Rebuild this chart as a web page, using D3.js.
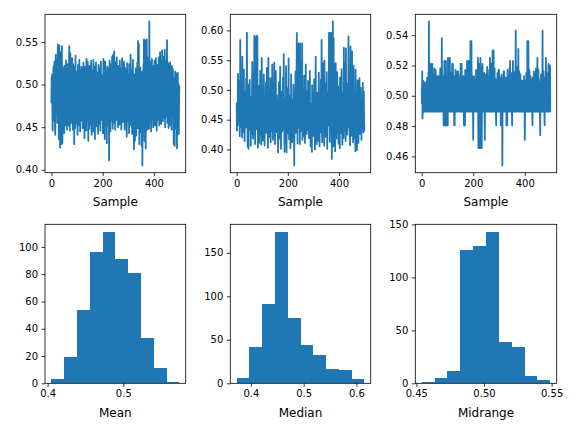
<!DOCTYPE html>
<html>
<head>
<meta charset="utf-8">
<script src="https://cdn.jsdelivr.net/npm/d3@7"></script>
<style>
  body { margin: 0; background: #fff; }
  text { font-family: "DejaVu Sans", sans-serif; }
</style>
</head>
<body>
<div id="chart"></div>
<script>
// per-sample statistics
var meanSamples = [
  0.478, 0.509, 0.492, 0.512, 0.463, 0.446, 0.498, 0.481, 0.521, 0.470, 0.458, 0.503, 0.527, 0.489, 0.452, 0.441, 0.496, 0.535, 0.474, 0.467,
  0.512, 0.488, 0.530, 0.455, 0.499, 0.547, 0.476, 0.462, 0.518, 0.436, 0.495, 0.546, 0.483, 0.471, 0.426, 0.509, 0.538, 0.457, 0.492, 0.430,
  0.501, 0.545, 0.468, 0.431, 0.520, 0.487, 0.458, 0.515, 0.474, 0.497, 0.443, 0.522, 0.481, 0.466, 0.506, 0.452, 0.491, 0.528, 0.463, 0.484,
  0.512, 0.447, 0.493, 0.524, 0.470, 0.458, 0.506, 0.487, 0.452, 0.533, 0.545, 0.478, 0.446, 0.499, 0.537, 0.463, 0.490, 0.518, 0.455, 0.476,
  0.502, 0.531, 0.468, 0.489, 0.447, 0.524, 0.494, 0.459, 0.512, 0.430, 0.486, 0.521, 0.473, 0.449, 0.534, 0.481, 0.462, 0.508, 0.495, 0.455,
  0.515, 0.476, 0.441, 0.498, 0.523, 0.463, 0.487, 0.509, 0.452, 0.529, 0.470, 0.496, 0.445, 0.517, 0.484, 0.466, 0.505, 0.521, 0.458, 0.491,
  0.478, 0.519, 0.449, 0.503, 0.468, 0.526, 0.487, 0.455, 0.514, 0.437, 0.497, 0.472, 0.521, 0.460, 0.489, 0.508, 0.446, 0.530, 0.481, 0.466,
  0.504, 0.459, 0.527, 0.491, 0.434, 0.512, 0.475, 0.498, 0.448, 0.522, 0.467, 0.486, 0.515, 0.453, 0.500, 0.528, 0.470, 0.441, 0.509, 0.483,
  0.462, 0.517, 0.494, 0.445, 0.529, 0.476, 0.503, 0.457, 0.521, 0.489, 0.436, 0.511, 0.468, 0.498, 0.526, 0.451, 0.484, 0.507, 0.473, 0.460,
  0.514, 0.483, 0.442, 0.497, 0.523, 0.466, 0.505, 0.454, 0.489, 0.519, 0.471, 0.446, 0.502, 0.527, 0.478, 0.492, 0.458, 0.511, 0.485, 0.464,
  0.509, 0.443, 0.496, 0.530, 0.474, 0.461, 0.518, 0.487, 0.436, 0.503, 0.527, 0.469, 0.492, 0.451, 0.514, 0.480, 0.431, 0.499, 0.521, 0.466,
  0.488, 0.507, 0.452, 0.475, 0.519, 0.411, 0.496, 0.528, 0.463, 0.484, 0.445, 0.511, 0.491, 0.470, 0.524, 0.457, 0.502, 0.533, 0.478, 0.448,
  0.497, 0.535, 0.469, 0.518, 0.486, 0.539, 0.455, 0.505, 0.477, 0.447, 0.526, 0.493, 0.462, 0.514, 0.481, 0.532, 0.458, 0.499, 0.472, 0.508,
  0.450, 0.522, 0.487, 0.466, 0.512, 0.495, 0.453, 0.528, 0.476, 0.501, 0.459, 0.519, 0.483, 0.447, 0.510, 0.490, 0.531, 0.468, 0.497, 0.456,
  0.516, 0.479, 0.503, 0.527, 0.462, 0.490, 0.447, 0.520, 0.484, 0.508, 0.453, 0.473, 0.517, 0.496, 0.439, 0.482, 0.525, 0.465, 0.501, 0.457,
  0.511, 0.474, 0.492, 0.443, 0.524, 0.486, 0.461, 0.507, 0.478, 0.535, 0.452, 0.498, 0.517, 0.467, 0.485, 0.442, 0.509, 0.490, 0.529, 0.458,
  0.477, 0.503, 0.424, 0.496, 0.468, 0.512, 0.434, 0.487, 0.455, 0.519, 0.471, 0.440, 0.501, 0.482, 0.465, 0.526, 0.449, 0.510, 0.551, 0.462,
  0.496, 0.548, 0.473, 0.430, 0.511, 0.483, 0.459, 0.520, 0.444, 0.492, 0.469, 0.505, 0.428, 0.487, 0.515, 0.405, 0.478, 0.499, 0.451, 0.523,
  0.466, 0.553, 0.489, 0.434, 0.510, 0.552, 0.472, 0.501, 0.425, 0.541, 0.484, 0.458, 0.553, 0.495, 0.447, 0.517, 0.479, 0.532, 0.463, 0.506,
  0.487, 0.448, 0.574, 0.498, 0.456, 0.516, 0.474, 0.527, 0.491, 0.445, 0.508, 0.468, 0.530, 0.482, 0.459, 0.513, 0.494, 0.450, 0.522, 0.477,
  0.501, 0.463, 0.528, 0.489, 0.452, 0.519, 0.476, 0.509, 0.531, 0.467, 0.495, 0.446, 0.514, 0.483, 0.458, 0.523, 0.491, 0.470, 0.505, 0.532,
  0.475, 0.452, 0.517, 0.496, 0.538, 0.469, 0.486, 0.511, 0.454, 0.529, 0.492, 0.465, 0.540, 0.481, 0.503, 0.457, 0.521, 0.487, 0.471, 0.533,
  0.498, 0.461, 0.541, 0.484, 0.450, 0.515, 0.477, 0.506, 0.463, 0.528, 0.491, 0.552, 0.472, 0.455, 0.510, 0.482, 0.525, 0.449, 0.497, 0.468,
  0.519, 0.486, 0.452, 0.526, 0.473, 0.501, 0.459, 0.513, 0.490, 0.447, 0.522, 0.479, 0.496, 0.462, 0.518, 0.485, 0.504, 0.430, 0.493, 0.466,
  0.508, 0.428, 0.487, 0.515, 0.461, 0.499, 0.475, 0.513, 0.448, 0.490, 0.425, 0.506, 0.470, 0.514, 0.483, 0.456, 0.501, 0.442, 0.479, 0.499
];

var medianSamples = [
  0.479, 0.432, 0.458, 0.466, 0.441, 0.527, 0.452, 0.488, 0.463, 0.515, 0.447, 0.459, 0.422, 0.471, 0.584, 0.455, 0.438, 0.467, 0.503, 0.449,
  0.461, 0.420, 0.556, 0.457, 0.443, 0.482, 0.465, 0.429, 0.534, 0.452, 0.470, 0.414, 0.459, 0.496, 0.446, 0.468, 0.437, 0.519, 0.455, 0.462,
  0.596, 0.448, 0.463, 0.405, 0.476, 0.453, 0.401, 0.509, 0.441, 0.466, 0.458, 0.517, 0.433, 0.460, 0.488, 0.406, 0.451, 0.469, 0.427, 0.456,
  0.499, 0.547, 0.444, 0.462, 0.418, 0.473, 0.454, 0.528, 0.439, 0.591, 0.465, 0.448, 0.409, 0.586, 0.457, 0.481, 0.434, 0.591, 0.461, 0.445,
  0.472, 0.591, 0.452, 0.403, 0.466, 0.507, 0.438, 0.459, 0.411, 0.490, 0.463, 0.447, 0.532, 0.425, 0.456, 0.474, 0.408, 0.461, 0.554, 0.449,
  0.435, 0.467, 0.494, 0.415, 0.458, 0.451, 0.526, 0.442, 0.469, 0.407, 0.462, 0.483, 0.449, 0.436, 0.512, 0.457, 0.428, 0.465, 0.537, 0.453,
  0.446, 0.477, 0.403, 0.460, 0.554, 0.444, 0.468, 0.421, 0.498, 0.455, 0.439, 0.464, 0.520, 0.412, 0.458, 0.486, 0.450, 0.431, 0.467, 0.543,
  0.448, 0.461, 0.416, 0.505, 0.455, 0.437, 0.470, 0.546, 0.443, 0.463, 0.409, 0.478, 0.457, 0.532, 0.429, 0.466, 0.451, 0.491, 0.440, 0.459,
  0.467, 0.424, 0.395, 0.482, 0.456, 0.513, 0.445, 0.462, 0.418, 0.453, 0.539, 0.436, 0.469, 0.401, 0.458, 0.497, 0.447, 0.464, 0.430, 0.476,
  0.452, 0.521, 0.441, 0.466, 0.560, 0.433, 0.457, 0.396, 0.485, 0.461, 0.446, 0.413, 0.468, 0.540, 0.449, 0.395, 0.472, 0.455, 0.427, 0.503,
  0.458, 0.434, 0.468, 0.553, 0.446, 0.417, 0.463, 0.490, 0.440, 0.456, 0.402, 0.471, 0.451, 0.526, 0.437, 0.466, 0.459, 0.412, 0.484, 0.448,
  0.465, 0.423, 0.509, 0.454, 0.439, 0.373, 0.462, 0.478, 0.444, 0.457, 0.531, 0.428, 0.468, 0.452, 0.491, 0.596, 0.447, 0.460, 0.410, 0.577,
  0.455, 0.436, 0.578, 0.463, 0.442, 0.501, 0.459, 0.409, 0.578, 0.450, 0.471, 0.431, 0.466, 0.546, 0.444, 0.457, 0.578, 0.416, 0.462, 0.488,
  0.441, 0.467, 0.422, 0.456, 0.524, 0.448, 0.464, 0.411, 0.479, 0.453, 0.543, 0.438, 0.469, 0.458, 0.426, 0.498, 0.451, 0.466, 0.433, 0.515,
  0.460, 0.447, 0.485, 0.419, 0.463, 0.454, 0.532, 0.440, 0.468, 0.405, 0.457, 0.476, 0.445, 0.461, 0.396, 0.508, 0.452, 0.437, 0.465, 0.449,
  0.423, 0.470, 0.458, 0.518, 0.443, 0.462, 0.400, 0.487, 0.456, 0.556, 0.434, 0.466, 0.451, 0.409, 0.473, 0.460, 0.495, 0.439, 0.464, 0.415,
  0.457, 0.529, 0.446, 0.468, 0.405, 0.461, 0.484, 0.440, 0.455, 0.517, 0.429, 0.467, 0.584, 0.450, 0.412, 0.463, 0.545, 0.437, 0.458, 0.479,
  0.444, 0.465, 0.406, 0.549, 0.454, 0.432, 0.470, 0.459, 0.511, 0.421, 0.463, 0.447, 0.530, 0.456, 0.401, 0.474, 0.452, 0.496, 0.440, 0.468,
  0.455, 0.596, 0.443, 0.466, 0.413, 0.596, 0.458, 0.432, 0.561, 0.449, 0.596, 0.470, 0.384, 0.462, 0.524, 0.439, 0.615, 0.456, 0.405, 0.587,
  0.451, 0.468, 0.542, 0.436, 0.459, 0.397, 0.477, 0.545, 0.444, 0.463, 0.418, 0.489, 0.455, 0.530, 0.428, 0.466, 0.449, 0.506, 0.410, 0.461,
  0.438, 0.472, 0.453, 0.402, 0.521, 0.461, 0.446, 0.484, 0.427, 0.458, 0.535, 0.442, 0.467, 0.408, 0.455, 0.496, 0.450, 0.464, 0.419, 0.571,
  0.456, 0.433, 0.469, 0.545, 0.447, 0.460, 0.414, 0.570, 0.452, 0.478, 0.441, 0.465, 0.510, 0.425, 0.458, 0.463, 0.437, 0.590, 0.454, 0.471,
  0.445, 0.528, 0.461, 0.407, 0.466, 0.573, 0.450, 0.436, 0.481, 0.457, 0.423, 0.565, 0.463, 0.448, 0.500, 0.412, 0.459, 0.541, 0.443, 0.467,
  0.452, 0.419, 0.488, 0.460, 0.397, 0.534, 0.446, 0.465, 0.430, 0.457, 0.399, 0.476, 0.454, 0.516, 0.439, 0.462, 0.411, 0.449, 0.493, 0.458,
  0.520, 0.444, 0.466, 0.426, 0.457, 0.504, 0.441, 0.463, 0.416, 0.478, 0.450, 0.459, 0.435, 0.512, 0.447, 0.468, 0.429, 0.497, 0.455, 0.431
];

var midrangeSamples = [
  0.505, 0.495, 0.516, 0.485, 0.4895, 0.510, 0.4895, 0.502, 0.4895, 0.509, 0.497, 0.4895, 0.508, 0.4895, 0.505, 0.491, 0.4895, 0.509, 0.4895, 0.503,
  0.4895, 0.512, 0.494, 0.4895, 0.507, 0.4895, 0.515, 0.500, 0.549, 0.4895, 0.513, 0.4895, 0.521, 0.496, 0.4895, 0.521, 0.505, 0.4895, 0.510, 0.4895,
  0.501, 0.521, 0.4895, 0.508, 0.493, 0.4895, 0.514, 0.4895, 0.504, 0.518, 0.4895, 0.511, 0.498, 0.4895, 0.517, 0.4895, 0.506, 0.4895, 0.513, 0.495,
  0.4895, 0.513, 0.502, 0.4895, 0.509, 0.4895, 0.513, 0.497, 0.4895, 0.511, 0.4895, 0.506, 0.518, 0.4895, 0.500, 0.4895, 0.512, 0.4895, 0.538, 0.496,
  0.4895, 0.513, 0.505, 0.4895, 0.510, 0.4805, 0.503, 0.4895, 0.523, 0.4805, 0.509, 0.4895, 0.499, 0.4805, 0.523, 0.4895, 0.506, 0.4805, 0.512, 0.4895,
  0.501, 0.4805, 0.525, 0.4895, 0.510, 0.4895, 0.496, 0.518, 0.4895, 0.525, 0.4895, 0.507, 0.4895, 0.502, 0.515, 0.4895, 0.509, 0.4895, 0.521, 0.498,
  0.4895, 0.521, 0.4895, 0.506, 0.4895, 0.513, 0.4805, 0.503, 0.4805, 0.509, 0.4895, 0.517, 0.495, 0.4895, 0.510, 0.4895, 0.505, 0.4895, 0.516, 0.500,
  0.4895, 0.516, 0.4895, 0.508, 0.493, 0.4895, 0.512, 0.4895, 0.503, 0.514, 0.4895, 0.521, 0.4895, 0.506, 0.4895, 0.521, 0.499, 0.4895, 0.511, 0.4895,
  0.505, 0.4895, 0.513, 0.4895, 0.4805, 0.509, 0.4895, 0.500, 0.4805, 0.517, 0.4895, 0.506, 0.4895, 0.512, 0.497, 0.4895, 0.523, 0.4895, 0.508, 0.4895,
  0.515, 0.4895, 0.523, 0.502, 0.4895, 0.511, 0.4895, 0.520, 0.4895, 0.536, 0.4895, 0.507, 0.4895, 0.536, 0.498, 0.4895, 0.513, 0.4895, 0.504, 0.4895,
  0.471, 0.509, 0.4895, 0.513, 0.4895, 0.500, 0.4895, 0.510, 0.4895, 0.506, 0.4895, 0.517, 0.493, 0.4895, 0.511, 0.4895, 0.503, 0.4895, 0.525, 0.4895,
  0.4655, 0.508, 0.4655, 0.521, 0.4895, 0.4655, 0.512, 0.4895, 0.525, 0.4655, 0.504, 0.4895, 0.518, 0.4655, 0.509, 0.4895, 0.521, 0.496, 0.4895, 0.512,
  0.4895, 0.506, 0.4895, 0.515, 0.4895, 0.471, 0.509, 0.4895, 0.501, 0.4895, 0.514, 0.4895, 0.507, 0.4895, 0.519, 0.4895, 0.498, 0.4895, 0.512, 0.4895,
  0.508, 0.4895, 0.517, 0.4895, 0.503, 0.525, 0.4895, 0.511, 0.4895, 0.505, 0.4895, 0.521, 0.4895, 0.509, 0.4895, 0.530, 0.4895, 0.514, 0.4895, 0.530,
  0.4895, 0.506, 0.4895, 0.518, 0.4895, 0.500, 0.4895, 0.511, 0.4895, 0.4805, 0.508, 0.4895, 0.502, 0.4895, 0.515, 0.4895, 0.497, 0.4895, 0.517, 0.4895,
  0.517, 0.4895, 0.509, 0.4895, 0.501, 0.4895, 0.512, 0.4805, 0.506, 0.4895, 0.514, 0.4895, 0.4895, 0.454, 0.503, 0.4895, 0.511, 0.4895, 0.516, 0.4895,
  0.516, 0.4895, 0.508, 0.4895, 0.499, 0.4895, 0.512, 0.4895, 0.505, 0.4805, 0.510, 0.4895, 0.4805, 0.517, 0.4895, 0.506, 0.4895, 0.513, 0.4895, 0.502,
  0.4895, 0.518, 0.4895, 0.523, 0.4895, 0.508, 0.4895, 0.503, 0.4895, 0.515, 0.4895, 0.4805, 0.510, 0.4895, 0.523, 0.4895, 0.506, 0.4895, 0.514, 0.4895,
  0.501, 0.4895, 0.516, 0.4895, 0.509, 0.543, 0.4895, 0.512, 0.4895, 0.504, 0.4895, 0.519, 0.4895, 0.507, 0.4895, 0.531, 0.4895, 0.511, 0.4895, 0.516,
  0.4895, 0.503, 0.4895, 0.514, 0.4895, 0.508, 0.4895, 0.510, 0.4895, 0.500, 0.4895, 0.510, 0.4895, 0.506, 0.4895, 0.510, 0.4895, 0.513, 0.4895, 0.508,
  0.471, 0.4895, 0.510, 0.4895, 0.502, 0.4895, 0.515, 0.4895, 0.508, 0.4895, 0.536, 0.4895, 0.511, 0.4895, 0.536, 0.4895, 0.505, 0.4895, 0.517, 0.4895,
  0.509, 0.4895, 0.513, 0.4895, 0.499, 0.4895, 0.511, 0.4895, 0.505, 0.4895, 0.4805, 0.512, 0.4895, 0.507, 0.4895, 0.516, 0.4895, 0.502, 0.4895, 0.514,
  0.4895, 0.508, 0.4895, 0.518, 0.4895, 0.503, 0.4895, 0.512, 0.4895, 0.525, 0.4895, 0.506, 0.4895, 0.517, 0.4895, 0.511, 0.4895, 0.4895, 0.509, 0.4895,
  0.474, 0.506, 0.4895, 0.514, 0.4895, 0.501, 0.4895, 0.510, 0.4895, 0.543, 0.4895, 0.508, 0.4895, 0.516, 0.4895, 0.504, 0.4895, 0.4805, 0.512, 0.4895,
  0.507, 0.4895, 0.525, 0.4895, 0.511, 0.4895, 0.503, 0.4895, 0.515, 0.4895, 0.506, 0.4895, 0.521, 0.4895, 0.509, 0.4895, 0.502, 0.4895, 0.520, 0.4895
];

// histogram counts (10 bins each)
var meanCounts = [3, 19, 54, 96, 111, 91, 81, 33, 11, 1];
var medianCounts = [6, 42, 91, 174, 75, 44, 32, 16, 15, 5];
var midrangeCounts = [1, 5, 12, 126, 130, 143, 39, 34, 7, 3];

// tick labels
var sampleTicks = [0, 200, 400];
var meanLineTicks = [0.40, 0.45, 0.50, 0.55];
var medianLineTicks = [0.40, 0.45, 0.50, 0.55, 0.60];
var midrangeLineTicks = [0.46, 0.48, 0.50, 0.52, 0.54];
var meanHistXTicks = [0.4, 0.5];
var medianHistXTicks = [0.4, 0.5, 0.6];
var midrangeHistXTicks = [0.45, 0.50, 0.55];
var meanHistYTicks = [0, 20, 40, 60, 80, 100];
var medianHistYTicks = [0, 50, 100, 150];
var midrangeHistYTicks = [0, 50, 100, 150];
var histLabels = ["Mean", "Median", "Midrange"];

var blue = "#1f77b4";
var cols = [[45, 185.7], [230.3, 370.7], [415.3, 556.7]];
var rows = [[14.3, 172.7], [224.3, 383.3]];

var svg = d3.select("#chart")
  .append("svg")
  .attr("width", 576)
  .attr("height", 432)
  .style("display", "block");

function pad(lo, hi) {
  var m = (hi - lo) * 0.05;
  return [lo - m, hi + m];
}

function styleAxis(g) {
  g.select(".domain").remove();
  g.selectAll(".tick line").attr("stroke", "#000").attr("stroke-width", 0.8);
  g.selectAll(".tick text").attr("fill", "#000").style("font-size", "10px")
    .style("font-family", "'DejaVu Sans', sans-serif");
}

function frame(c, r, id) {
  svg.append("clipPath").attr("id", id)
    .append("rect")
    .attr("x", cols[c][0]).attr("y", rows[r][0])
    .attr("width", cols[c][1] - cols[c][0])
    .attr("height", rows[r][1] - rows[r][0]);
}

function border(c, r) {
  svg.append("rect")
    .attr("x", cols[c][0]).attr("y", rows[r][0])
    .attr("width", cols[c][1] - cols[c][0])
    .attr("height", rows[r][1] - rows[r][0])
    .attr("fill", "none")
    .attr("stroke", "#000")
    .attr("stroke-width", 0.8);
}

function axes(c, r, x, y, xTicks, xFmt, yTicks, yFmt, label) {
  svg.append("g")
    .attr("transform", "translate(0," + rows[r][1] + ")")
    .call(d3.axisBottom(x).tickValues(xTicks).tickFormat(d3.format(xFmt)).tickSize(3.5).tickPadding(3.5))
    .call(styleAxis);
  svg.append("g")
    .attr("transform", "translate(" + cols[c][0] + ",0)")
    .call(d3.axisLeft(y).tickValues(yTicks).tickFormat(d3.format(yFmt)).tickSize(3.5).tickPadding(3.5))
    .call(styleAxis);
  svg.append("text")
    .attr("x", (cols[c][0] + cols[c][1]) / 2)
    .attr("y", rows[r][1] + 33.5)
    .attr("text-anchor", "middle")
    .style("font-size", "12px")
    .attr("fill", "#000")
    .text(label);
}

function drawLine(c, data, yTicks) {
  var x = d3.scaleLinear().domain(pad(0, data.length - 1)).range(cols[c]);
  var ext = d3.extent(data);
  var y = d3.scaleLinear().domain(pad(ext[0], ext[1])).range([rows[0][1], rows[0][0]]);
  var id = "clip-top-" + c;
  frame(c, 0, id);
  svg.append("path")
    .datum(data)
    .attr("clip-path", "url(#" + id + ")")
    .attr("fill", "none")
    .attr("stroke", blue)
    .attr("stroke-width", 1.8)
    .attr("stroke-linejoin", "round")
    .attr("d", d3.line().x(function(d, i) { return x(i); }).y(function(d) { return y(d); }));
  border(c, 0);
  axes(c, 0, x, y, sampleTicks, "d", yTicks, ".2f", "Sample");
}

function drawHist(c, samples, counts, xTicks, xFmt, yTicks) {
  var ext = d3.extent(samples);
  var bw = (ext[1] - ext[0]) / counts.length;
  var x = d3.scaleLinear().domain(pad(ext[0], ext[1])).range(cols[c]);
  var y = d3.scaleLinear().domain([0, d3.max(counts) * 1.05]).range([rows[1][1], rows[1][0]]);
  svg.append("g").selectAll("rect")
    .data(counts)
    .enter().append("rect")
    .attr("x", function(d, i) { return x(ext[0] + i * bw); })
    .attr("width", function(d, i) { return x(ext[0] + (i + 1) * bw) - x(ext[0] + i * bw); })
    .attr("y", function(d) { return y(d); })
    .attr("height", function(d) { return y(0) - y(d); })
    .attr("fill", blue)
    .attr("shape-rendering", "crispEdges");
  border(c, 1);
  axes(c, 1, x, y, xTicks, xFmt, yTicks, "d", histLabels[c]);
}

drawLine(0, meanSamples, meanLineTicks);
drawLine(1, medianSamples, medianLineTicks);
drawLine(2, midrangeSamples, midrangeLineTicks);

drawHist(0, meanSamples, meanCounts, meanHistXTicks, ".1f", meanHistYTicks);
drawHist(1, medianSamples, medianCounts, medianHistXTicks, ".1f", medianHistYTicks);
drawHist(2, midrangeSamples, midrangeCounts, midrangeHistXTicks, ".2f", midrangeHistYTicks);
</script>
</body>
</html>
